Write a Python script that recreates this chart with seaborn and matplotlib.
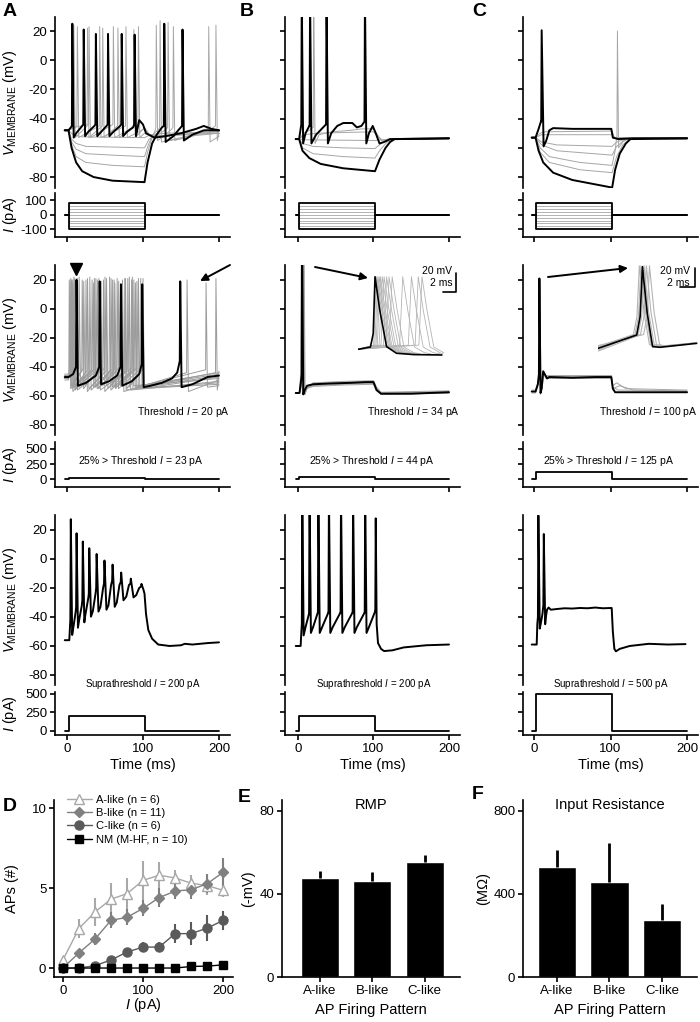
"""
Firing patterns of recorded neurons: current-clamp traces (A-C) and summary stats (D-F).
"""
import numpy as np
import matplotlib.pyplot as plt
import seaborn as sns

sns.set_theme(style="ticks")
plt.rcParams["font.family"] = ["Liberation Sans", "DejaVu Sans"]
plt.rcParams.update({
    "mathtext.fontset": "custom",
    "mathtext.rm": "Liberation Sans",
    "mathtext.it": "Liberation Sans:italic",
    "mathtext.bf": "Liberation Sans:bold",
    "axes.unicode_minus": False,
    "axes.linewidth": 1.2,
    "axes.edgecolor": "black",
    "axes.labelcolor": "black",
    "text.color": "black",
    "xtick.color": "black",
    "ytick.color": "black",
    "xtick.major.width": 1.2,
    "ytick.major.width": 1.2,
    "xtick.major.size": 3.5,
    "ytick.major.size": 3.5,
    "xtick.major.pad": 2,
    "ytick.major.pad": 2,
})


def S(t, pk, thr, trough, w=1.8):
    # one action potential: threshold -> peak -> trough
    return [(t - 0.6, thr), (t, pk), (t + w, trough)]


# ---------------- data: voltage traces (ms, mV) ----------------
# row 1, A
A1_BLACK_DEP = [(-3, -48), (2, -48), (5, -46), *S(7, 25, -45, -53), (12, -50), (20, -45),
                *S(22, 21, -44, -52), (28, -49), (36, -45), *S(38, 18, -44, -52), (45, -49),
                (52, -45), *S(54, 18, -44, -52), (61, -49), (70, -45), *S(72, 18, -44, -52),
                (79, -49), (87, -46), *S(89, 17.5, -44, -52), (95, -41), (100, -44), (104, -50),
                (115, -53), (130, -52), (150, -50), (170, -47), (180, -45), (190, -47), (200, -48)]
A1_BLACK_HYP = [(-3, -48), (2, -48), (6, -60), (12, -70), (20, -76), (35, -80), (60, -82.5),
                (102, -83.5), (106, -70), (112, -57), (118, -51), (125, -46), *S(128, 25, -45, -56),
                (140, -52), (148, -47), *S(152, 21, -45, -55), (165, -51), (180, -48), (200, -48)]
A1_GRAY = [
    [(-3, -48), (2, -48), (6, -58), (12, -66), (25, -70), (60, -72), (102, -73), (106, -63),
     (112, -53), (116, -48), *S(117.5, 24, -46, -55), (130, -51), (138, -47), *S(140, 23, -46, -55),
     (160, -52), (200, -50)],
    [(-3, -48), (2, -48), (6, -56), (12, -61), (25, -64), (60, -65), (102, -66), (107, -58),
     (113, -51), (121, -47), *S(122.5, 27, -46, -56), (150, -53), (180, -49), *S(186.5, 23, -46, -56),
     (200, -52)],
    [(-3, -48), (2, -48), (6, -54), (12, -57), (25, -59), (102, -60), (108, -54), (120, -51),
     (131, -47), *S(133, 26, -46, -55), (160, -53), (190, -47), *S(196, 24, -45, -55), (200, -50)],
    [(-3, -48), (2, -48), (8, -51), (20, -52.5), (102, -53), (110, -51), (130, -50), (200, -49)],
    [(-3, -48), (2, -48), (10, -46), *S(29, 23, -44, -53), *S(61, 23, -44, -53),
     *S(94, 23, -44, -53), (102, -50), (110, -52), (200, -50)],
    [(-3, -48), (2, -48), (8, -46), *S(13.6, 23, -45, -53), *S(43, 23, -45, -53),
     *S(77.6, 23, -45, -53), (102, -47), (110, -52), (200, -50)],
    [(-3, -48), (2, -48), (6, -46), *S(9, 24, -45, -53), *S(27, 22, -45, -53), *S(47, 22, -45, -53),
     *S(67, 22, -45, -53), *S(88, 21, -45, -53), (102, -46), (110, -52), (200, -49)],
]

# row 1, B
B1_BLACK_DEP = [(-3, -54), (1.5, -54), (3.5, -47), *S(5, 45, -44, -57), (10, -50), (15, -45),
                *S(16, 45, -45, -57), (24, -51), (37, -44), *S(37.8, 45, -44, -57), (44, -50),
                (52, -45), (60, -43), (72, -43), (78, -46), (84, -45), *S(88.7, 45, -42, -57),
                (94, -50), (99, -45), (103, -50), (108, -57), (114, -56), (122, -54), (200, -53.5)]
B1_BLACK_HYP = [(-3, -54), (1.5, -54), (6, -62), (15, -67), (30, -71), (60, -74), (102, -76),
                (108, -68), (116, -60), (122, -56), (128, -54), (200, -53.5)]
B1_GRAY = [
    [(-3, -54), (1.5, -54), (6, -60), (20, -64), (60, -66), (102, -67), (108, -62), (118, -56),
     (128, -54), (200, -53.5)],
    [(-3, -54), (1.5, -54), (6, -57), (20, -59), (60, -60), (102, -60.5), (110, -57), (122, -54.5),
     (200, -53.5)],
    [(-3, -54), (1.5, -54), (10, -54.5), (102, -55), (110, -54.5), (200, -53.5)],
    [(-3, -54), (1.5, -54), (8, -50), (15, -48), (20, -46), *S(20.8, 45, -46, -57), (28, -51),
     (45, -49), (70, -48), (85, -47), (100, -47), (104, -50), (110, -55), (120, -54), (200, -53.5)],
    [(-3, -54), (1.5, -54), (8, -51), (25, -50), (60, -49.5), (100, -49), (104, -51), (112, -55),
     (122, -54), (200, -53.5)],
]

# row 1, C
C1_BLACK_DEP = [(-3, -53), (2, -53), (6, -47), (9, -42), *S(10, 20.5, -42, -59, 2.5), (16, -55),
                (20, -48), (25, -46.5), (50, -47), (80, -47), (101, -47), (103, -53), (110, -54),
                (130, -53.5), (200, -53.5)]
C1_BLACK_HYP = [(-3, -53), (2, -53), (6, -62), (12, -70), (25, -77), (50, -82), (80, -85),
                (100, -87), (102, -87.5), (106, -75), (112, -64), (120, -57), (126, -54), (200, -53.5)]
C1_GRAY = [
    [(-3, -53), (2, -53), (8, -63), (20, -70), (60, -75), (102, -77), (108, -66), (116, -58),
     (125, -54), (200, -53)],
    [(-3, -53), (2, -53), (8, -60), (20, -66), (60, -70), (102, -72), (106, -62), (108, -53),
     *S(109, 20, -52, -60, 1.5), (116, -56), (125, -53), (200, -53)],
    [(-3, -53), (2, -53), (10, -58), (30, -62), (102, -65), (108, -59), (120, -54), (200, -53)],
    [(-3, -53), (2, -53), (10, -56), (30, -58), (102, -59), (108, -56), (120, -54), (200, -53)],
    [(-3, -53), (2, -53), (10, -51), (102, -51), (106, -53), (200, -53)],
    [(-3, -53), (2, -53), (8, -50), (15, -49), (102, -48.5), (105, -53), (200, -53)],
]

# row 2, A (threshold repeats)
A2_BLACK = [(-3, -47), (2, -47), (8, -45), *S(12.5, 20, -40, -53), (25, -51), (38, -46),
            *S(43, 19, -40, -52), (55, -50), (66, -46), *S(71, 17, -40, -53), (85, -50), (95, -45),
            *S(99, 17, -38, -54), (110, -53), (125, -51), (138, -48), (145, -44),
            *S(149, 19, -36, -54), (165, -52), (185, -47), (200, -46)]
A2_GRAY_SPIKES = [
    [5, 27, 52, 77, 97],
    [7, 33, 60, 88],
    [9, 30, 56, 82],
    [4, 22, 45, 68, 92],
    [10, 38, 66, 94],
    [6, 25, 48, 73, 158],
    [8, 35, 63, 90, 183],
    [12, 42, 76, 196],
    [16, 50, 86],
    [3, 20, 40, 62, 85],
    [14, 36, 58, 80, 100],
]
A2_GRAY_PEAK = [21, 20, 22, 19, 21, 20, 18, 21, 22, 20, 21]
A2_GRAY_THR = [-43, -42, -44, -41, -43, -44, -42, -44, -41, -43, -42]
A2_GRAY_TROUGH = [-55, -54, -56, -53, -55, -57, -54, -56, -53, -55, -54]
A2_GRAY_REST = [-47, -48, -46, -49, -47, -45, -48, -46, -47, -48, -46]
A2_GRAY_END = [-47, -45, -50, -44, -52, -49, -53, -43, -48, -51, -46]
A2_MARK_T, A2_MARK_V = [12], [27.6]

# row 2, B
B2_BLACK = [(-3, -58), (2, -58), (4, -50), *S(5.5, 45, -45, -59, 1.5), (9, -56), (12, -53),
            (20, -52), (40, -51.5), (70, -51), (90, -50.5), (100, -50.5), (104, -56), (110, -58.5),
            (150, -58.5), (200, -57.5)]
B2_GRAY_SPIKE = [4.3, 4.8, 6.0, 6.6, 7.4, 8.0]
B2_GRAY_PLATEAU = [-51, -52, -50.5, -52.5, -51.5, -50]
B2_GRAY_AFTER = [-58, -59, -57.5, -58.5, -59, -58]

# row 2, C
C2_BLACK = [(-3, -57), (2, -57), (5, -52), *S(7, 21, -45, -58, 1.5), (10, -55), (12, -43),
            (15, -46), (17, -48), (20, -47), (50, -47.5), (80, -47), (101, -47), (103, -55),
            (106, -57.5), (200, -57.5)]
C2_GRAY = [
    [(-3, -57), (2, -57), (5, -52), *S(7.3, 20, -45, -58, 1.5), (10.5, -54), (12.5, -44),
     (15.5, -47), (18, -46), (50, -46), (101, -46), (103, -53), (108, -51), (120, -55), (200, -56)],
    [(-3, -56), (2, -56), (5, -51), *S(7.6, 19, -45, -57, 1.5), (10.8, -53), (12.8, -45),
     (16, -48), (19, -48), (60, -48), (101, -48), (103, -55), (112, -53), (130, -56), (200, -57)],
    [(-3, -58), (2, -58), (5, -53), *S(6.8, 20, -45, -59, 1.5), (9.8, -55), (11.8, -44),
     (14.5, -46), (18, -46.5), (70, -46.5), (101, -46), (103, -54), (110, -56), (200, -56.5)],
]

# row 3 (suprathreshold)
A3_BLACK = [(-3, -56), (3, -56), (4, -46), *S(5, 27.4, -42, -52.4), (9, -45), (11.5, -36),
            *S(12.6, 17.7, -33, -47.4), (16, -42), (19.5, -32), *S(20.8, 12, -28, -43.7, 2),
            (24, -39), (28, -27), *S(29.3, 7.4, -24, -39.8, 2.2), (34, -36), (37.5, -24),
            *S(39, 3.4, -20, -36.3, 2.4), (44, -33), (47.5, -20), *S(49.3, -1.1, -17, -35, 2.6),
            (54.5, -32), (58, -18), *S(60, -3.9, -15, -33, 2.8), (65.5, -30), (69, -18),
            *S(71.3, -9.4, -16, -28.5, 3), (78, -26), (81.5, -18), *S(84, -13.6, -17, -26.5, 3.5),
            (91, -25), (95, -20), *S(98, -17.2, -19, -21, 2.5), (102, -24), (104, -38), (107, -49),
            (112, -55), (120, -59), (135, -60), (150, -59.5), (155, -58.5), (165, -59), (185, -58),
            (200, -57.5)]
B3_BLACK = [(-3, -60), (3.5, -60), (4.5, -50), *S(5.7, 45, -45, -52.7), (10, -47), (14.5, -38),
            *S(15.3, 45, -38, -51), (20, -47), (26.2, -37), *S(27, 45, -37, -51), (32, -47),
            (40.2, -37), *S(41, 45, -37, -51), (46, -47), (56.2, -37), *S(57, 45, -37, -51),
            (62, -47), (72.2, -37), *S(73, 45, -37, -51), (78, -47), (88.2, -37),
            *S(89, 45, -37, -51), (94, -47), (102.3, -36), *S(103, 28, -36, -45, 1.2), (106, -58),
            (110, -62), (114, -63.5), (125, -63), (140, -61), (170, -59.5), (200, -59)]
C3_BLACK = [(-3, -59), (3.5, -59), (4.3, -45), *S(5.7, 30, -40, -48), (9, -44), (11, -38),
            *S(12.8, 17.2, -32, -45), (15.5, -40), (17, -35), (19, -33.5), (22, -35), (30, -34.5),
            (40, -34), (50, -34.2), (60, -33.8), (70, -34), (80, -33.5), (90, -34), (101.5, -33.8),
            (103, -50), (105, -62), (107, -63.7), (112, -62), (125, -60), (150, -58.5), (175, -59),
            (198, -58.7)]

# current steps (pA)
I_FAMILY = [-100, -80, -60, -40, -20, 0, 20, 40, 60, 80]
I_THRESH25 = [23, 44, 125]
I_SUPRA = [200, 200, 500]
THRESH_I = [20, 34, 100]

# inset spike waveforms (ms, mV)
INSET_B_BLACK = [(0.05, -46.4), (2.0, -44), (2.45, -30), (2.74, 30), (3.5, -5), (4.6, -43.6),
                 (6.2, -50.6), (9, -52), (13.5, -52.4)]
INSET_B_GRAY_PEAKS = [3.0, 3.2, 3.4, 3.6, 3.9, 4.2, 4.6, 5.0, 5.5, 7.2, 8.6, 9.7, 10.3]
INSET_C_BLACK = [(0.04, -59), (4.96, -44.5), (5.4, -24.5), (5.7, 30), (6.3, -20), (7.0, -57.2),
                 (7.95, -57.9), (12.65, -53.6)]
INSET_C_GRAY_PEAKS = [5.3, 5.5, 5.9, 6.2, 6.6]
INSET_C_GRAY_BASE = [-57, -61, -58, -62, -56]

# ---------------- data: summary panels ----------------
I_PA = np.array([0, 20, 40, 60, 80, 100, 120, 140, 160, 180, 200])
A_LIKE = np.array([0.5, 2.46, 3.5, 4.3, 4.65, 5.48, 5.8, 5.63, 5.3, 5.15, 4.85])
A_SEM = np.array([0.2, 0.6, 0.9, 1.0, 1.0, 1.2, 0.8, 0.5, 0.5, 0.6, 0.4])
B_LIKE = np.array([0, 0.94, 1.81, 2.98, 3.17, 3.73, 4.4, 4.81, 4.9, 5.27, 6.0])
B_SEM = np.array([0, 0.2, 0.4, 0.5, 0.5, 0.5, 0.6, 0.5, 0.6, 0.6, 0.9])
C_LIKE = np.array([0, 0, 0.15, 0.5, 1.0, 1.31, 1.31, 2.15, 2.15, 2.5, 2.98])
C_SEM = np.array([0, 0, 0.1, 0.2, 0.2, 0.3, 0.3, 0.6, 0.7, 0.8, 0.6])
NM = np.array([0, 0, 0, 0, 0, 0, 0, 0, 0.1, 0.12, 0.2])
NM_SEM = np.array([0, 0, 0, 0, 0, 0, 0, 0, 0.05, 0.05, 0.1])

GROUPS = ["A-like", "B-like", "C-like"]
RMP = np.array([47.8, 46.2, 55.5])
RMP_SEM = np.array([3.2, 4.5, 3.3])
RIN = np.array([531, 458, 277])
RIN_SEM = np.array([81, 186, 73])

# ---------------- layout (pixels of the 700x1022 canvas) ----------------
W, H = 700, 1022


def box(l, t, r, b):
    return [l / W, 1 - b / H, (r - l) / W, (b - t) / H]


def fpos(x, y):
    return (x / W, 1 - y / H)


COL_LEFT = [55, 285, 523]
COL_W = 175
XLIMS = [(-15.8, 214.5), (-17.2, 214.6), (-14.4, 214.3)]
ROW_V = [(17, 188), (265, 435), (515, 685)]
ROW_I = [(193, 237), (442, 487), (692, 735)]
V_LIMS = [(-87.5, 29.6), (-87, 30.3), (-86.9, 30.3)]
I_LIMS = [(-152.6, 147.8), (-127, 615), (-58.6, 527)]
I_TICKS = [[-100, 0, 100], [0, 250, 500], [0, 250, 500]]
STEP_ON, STEP_OFF = 2, 102

TICK_FS, LABEL_FS, NOTE_FS = 9.5, 10.5, 7.5
GRAY, BLACK_LW, GRAY_LW = "#a6a6a6", 1.4, 0.7

fig = plt.figure(figsize=(7, 10.22), dpi=100)
fig.patch.set_facecolor("white")

axV = [[None] * 3 for _ in range(3)]
axI = [[None] * 3 for _ in range(3)]
for r in range(3):
    for c in range(3):
        l = COL_LEFT[c]
        av = fig.add_axes(box(l, ROW_V[r][0], l + COL_W, ROW_V[r][1]))
        av.set_facecolor("none")
        av.set_xlim(XLIMS[c])
        av.set_ylim(V_LIMS[r])
        av.spines[["top", "right", "bottom"]].set_visible(False)
        av.set_xticks([])
        av.set_yticks([-80, -60, -40, -20, 0, 20])
        av.tick_params(labelsize=TICK_FS)
        ai = fig.add_axes(box(l, ROW_I[r][0], l + COL_W, ROW_I[r][1]))
        ai.set_facecolor("none")
        ai.set_xlim(XLIMS[c])
        ai.set_ylim(I_LIMS[r])
        ai.spines[["top", "right"]].set_visible(False)
        ai.set_xticks([0, 100, 200])
        ai.set_yticks(I_TICKS[r])
        ai.tick_params(labelsize=TICK_FS)
        if r < 2:
            ai.set_xticklabels([])
        else:
            ai.set_xlabel("Time (ms)", fontsize=LABEL_FS)
            ai.xaxis.set_label_coords(0.5, -23 / 43)
        if c > 0:
            av.set_yticklabels([])
            ai.set_yticklabels([])
        else:
            av.set_ylabel(r"$V_{\mathrm{MEMBRANE}}$ (mV)", fontsize=LABEL_FS)
            av.yaxis.set_label_coords(-36 / COL_W, 0.5)
            ai.set_ylabel(r"$I$ (pA)", fontsize=LABEL_FS)
            ai.yaxis.set_label_coords(-36 / COL_W, 0.5)
        axV[r][c], axI[r][c] = av, ai


def draw(ax, pts, color, lw, z=2):
    pts = np.asarray(pts, dtype=float)
    ax.plot(pts[:, 0], pts[:, 1], color=color, lw=lw, zorder=z, solid_joinstyle="round")


def step(amp):
    return [(-3, 0), (STEP_ON, 0), (STEP_ON, amp), (STEP_OFF, amp), (STEP_OFF, 0), (200, 0)]


# --- row 1: current families ---
row1 = [(A1_GRAY, [A1_BLACK_DEP, A1_BLACK_HYP]),
        (B1_GRAY, [B1_BLACK_DEP, B1_BLACK_HYP]),
        (C1_GRAY, [C1_BLACK_DEP, C1_BLACK_HYP])]
for c, (grays, blacks) in enumerate(row1):
    for g in grays:
        draw(axV[0][c], g, GRAY, GRAY_LW)
    for b in blacks:
        draw(axV[0][c], b, "black", BLACK_LW, 3)
    for amp in I_FAMILY:
        edge = amp in (I_FAMILY[0], I_FAMILY[-1])
        draw(axI[0][c], step(amp), "black" if edge else GRAY,
             1.3 if edge else 0.6, 3 if edge else 2)

# --- row 2: threshold repeats ---
for k, spikes in enumerate(A2_GRAY_SPIKES):
    pts = [(-3, A2_GRAY_REST[k]), (2, A2_GRAY_REST[k])]
    for t in spikes:
        pts += S(t, A2_GRAY_PEAK[k], A2_GRAY_THR[k], A2_GRAY_TROUGH[k])
    pts.append((200, A2_GRAY_END[k]))
    draw(axV[1][0], pts, "#9c9c9c", GRAY_LW)
draw(axV[1][0], A2_BLACK, "black", BLACK_LW, 3)
axV[1][0].plot(A2_MARK_T, A2_MARK_V, marker="v", ms=8, color="black", ls="none",
               clip_on=False, zorder=4)

for k, ts in enumerate(B2_GRAY_SPIKE):
    p, a = B2_GRAY_PLATEAU[k], B2_GRAY_AFTER[k]
    pts = [(-3, -58), (2, -58), (ts - 1.5, -50), *S(ts, 45, -45, -59, 1.5), (ts + 4, -55),
           (20, p - 1), (60, p), (100, p + 0.5), (104, (p + a) / 2), (110, a), (200, a + 1)]
    draw(axV[1][1], pts, GRAY, GRAY_LW)
draw(axV[1][1], B2_BLACK, "black", BLACK_LW, 3)

for g in C2_GRAY:
    draw(axV[1][2], g, GRAY, GRAY_LW)
draw(axV[1][2], C2_BLACK, "black", BLACK_LW, 3)

for c in range(3):
    draw(axI[1][c], step(I_THRESH25[c]), "black", 1.3)
    axV[1][c].text(XLIMS[c][1] - 0.5, -71, rf"Threshold $I$ = {THRESH_I[c]} pA",
                   ha="right", va="center", fontsize=NOTE_FS)
    axI[1][c].text(97, 307, rf"25% > Threshold $I$ = {I_THRESH25[c]} pA",
                   ha="center", va="center", fontsize=NOTE_FS)

# --- row 3: suprathreshold ---
for c, tr in enumerate([A3_BLACK, B3_BLACK, C3_BLACK]):
    draw(axV[2][c], tr, "black", BLACK_LW, 3)
    draw(axI[2][c], step(I_SUPRA[c]), "black", 1.3)
    axV[2][c].text(100, -86.3, rf"Suprathreshold $I$ = {I_SUPRA[c]} pA",
                   ha="center", va="center", fontsize=NOTE_FS - 0.5, clip_on=False)

# --- insets with aligned spikes ---
insB = fig.add_axes(box(358, 268, 458, 362))
insB.axis("off")
insB.set_xlim(0, 16.1)
insB.set_ylim(-59.8, 39.2)
for pk in INSET_B_GRAY_PEAKS:
    end = min(pk + 4.5, 13.5)
    pts = [(0.05, -46.4), (pk - 0.5, -42), (pk, 30), (pk + 0.8, -5), (pk + 1.9, -44),
           (pk + 3.5, -50), (end, -51)]
    draw(insB, pts, "#b4b4b4", 0.6)
draw(insB, INSET_B_BLACK, "black", 1.2, 3)
insB.plot([15.76, 15.76, 13.76], [34.2, 14.2, 14.2], color="black", lw=1.2, clip_on=False)
insB.text(15.2, 36.3, "20 mV", ha="right", va="center", fontsize=NOTE_FS)
insB.text(15.2, 23, "2 ms", ha="right", va="center", fontsize=NOTE_FS)

insC = fig.add_axes(box(598, 262, 700, 356))
insC.axis("off")
insC.set_xlim(0, 13.08)
insC.set_ylim(-67.4, 35.1)
for pk, base in zip(INSET_C_GRAY_PEAKS, INSET_C_GRAY_BASE):
    pts = [(0.04, base), (pk - 0.75, -44), (pk - 0.3, -24), (pk, 31), (pk + 0.6, -20),
           (pk + 1.3, -55), (pk + 2.3, -57), (12.65, -53)]
    draw(insC, pts, "#b4b4b4", 0.8)
draw(insC, INSET_C_BLACK, "black", 1.2, 3)
insC.plot([12.5, 12.5, 10.5], [28.3, 8.3, 8.3], color="black", lw=1.2, clip_on=False)
insC.text(11.8, 25.6, "20 mV", ha="right", va="center", fontsize=NOTE_FS)
insC.text(11.8, 11.9, "2 ms", ha="right", va="center", fontsize=NOTE_FS)

ARROWS = [((230, 265), (200, 281)), ((315, 267), (368, 278)), ((548, 277), (628, 268))]
for tail, head in ARROWS:
    fig.add_artist(plt.matplotlib.patches.FancyArrowPatch(
        fpos(*tail), fpos(*head), transform=fig.transFigure, arrowstyle="-|>",
        mutation_scale=11, color="black", lw=1.4, shrinkA=0, shrinkB=0))

# --- D: APs vs injected current ---
axD = fig.add_axes(box(54, 800, 233, 977))
series = [
    ("A-like (n = 6)", A_LIKE, A_SEM, "#a8a8a8", "^", "white", 6.5),
    ("B-like (n = 11)", B_LIKE, B_SEM, "#808080", "D", "#808080", 4.8),
    ("C-like (n = 6)", C_LIKE, C_SEM, "#5a5a5a", "o", "#5a5a5a", 6.5),
    ("NM (M-HF, n = 10)", NM, NM_SEM, "black", "s", "black", 6),
]
for name, y, err, col, mk, face, ms in series:
    axD.vlines(I_PA, y - err, y + err, color=col, lw=1.5, zorder=2)
    sns.lineplot(x=I_PA, y=y, ax=axD, color=col, marker=mk, markersize=ms,
                 markerfacecolor=face, markeredgecolor=col, markeredgewidth=1,
                 lw=1, label=name, errorbar=None, zorder=3)
axD.set_xlim(-11, 212)
axD.set_ylim(-0.56, 10.5)
axD.set_xticks([0, 100, 200])
axD.set_yticks([0, 5, 10])
axD.spines[["top", "right"]].set_visible(False)
axD.tick_params(labelsize=TICK_FS)
axD.set_xlabel(r"$I$ (pA)", fontsize=LABEL_FS)
axD.set_ylabel("APs (#)", fontsize=LABEL_FS)
axD.xaxis.set_label_coords(0.5, -19 / 177)
axD.yaxis.set_label_coords(-35 / 179, 0.5)
axD.legend(loc="upper left", bbox_to_anchor=(0.07, 1.03), frameon=False, fontsize=8,
           handlelength=2.3, handletextpad=0.35, labelspacing=0.3, borderaxespad=0,
           borderpad=0)

# --- E, F: bar charts ---
bar_specs = [
    (box(282, 800, 460, 977), RMP, RMP_SEM, (0, 85.3), [0, 40, 80], "(-mV)", "RMP",
     (-0.72, 2.67), -27 / 178),
    (box(523, 800, 697, 977), RIN, RIN_SEM, (0, 853), [0, 400, 800], "(M\u03a9)",
     "Input Resistance", (-0.64, 2.66), -33 / 174),
]
for rect, vals, err, ylim, yt, ylab, title, xlim, ylab_x in bar_specs:
    ax = fig.add_axes(rect)
    sns.barplot(x=GROUPS, y=vals, color="black", saturation=1, width=0.73, ax=ax,
                errorbar=None)
    ax.vlines(range(len(GROUPS)), vals, vals + err, color="black", lw=2)
    ax.set_xlim(xlim)
    ax.set_ylim(ylim)
    ax.set_yticks(yt)
    ax.spines[["top", "right"]].set_visible(False)
    ax.tick_params(labelsize=TICK_FS)
    ax.set_xlabel("AP Firing Pattern", fontsize=LABEL_FS)
    ax.set_ylabel(ylab, fontsize=LABEL_FS)
    ax.xaxis.set_label_coords(0.5, -26 / 177)
    ax.yaxis.set_label_coords(ylab_x, 0.5)
    ax.text(0.5, 0.972, title, transform=ax.transAxes, ha="center", va="center",
            fontsize=LABEL_FS)

# panel letters
for letter, (x, y) in zip("ABCDEF", [(3, 12), (240, 12), (472, 12), (3, 806), (238, 797),
                                      (472, 794)]):
    fig.text(*fpos(x, y), letter, fontsize=14, fontweight="bold", va="center", ha="left")

fig.savefig("out.png", dpi=100)
